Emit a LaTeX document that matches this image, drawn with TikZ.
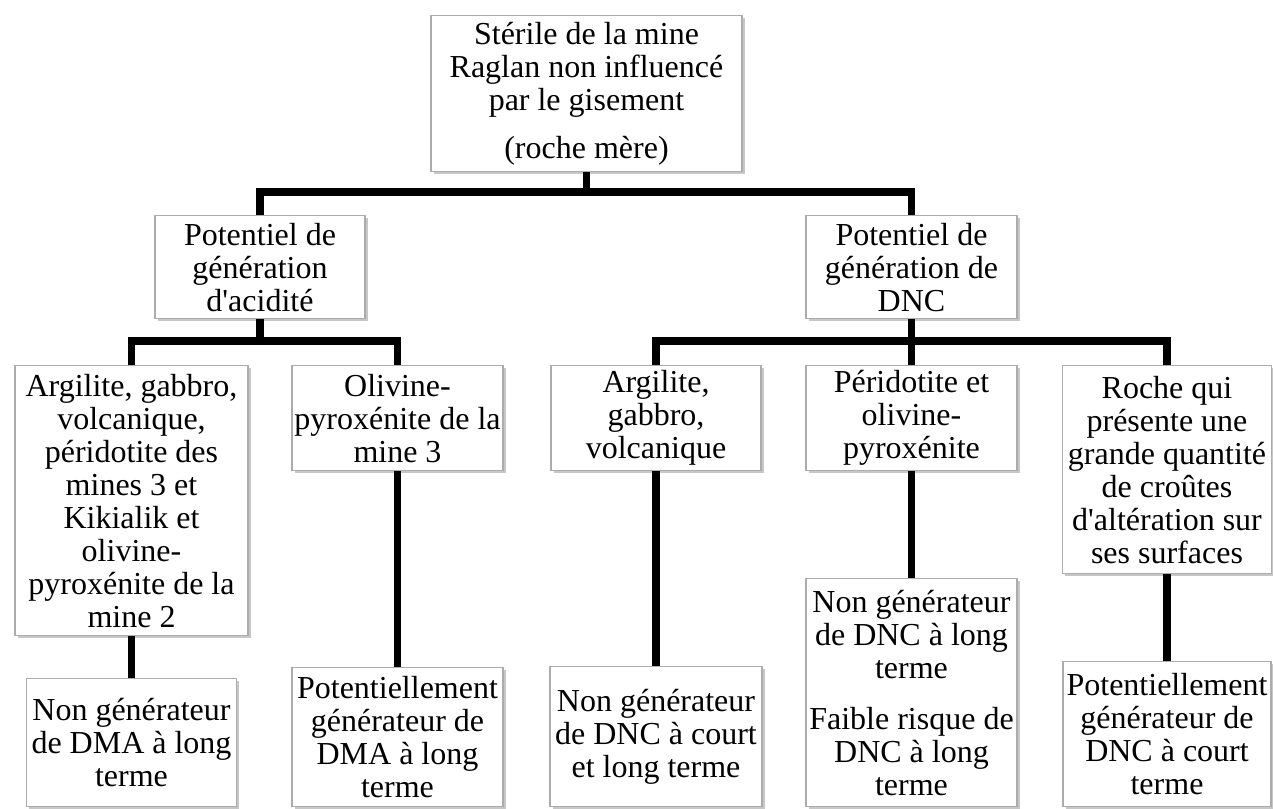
\documentclass[tikz,border=0pt]{standalone}
\usepackage{fontspec}
\setmainfont{Liberation Serif}
\usetikzlibrary{shadows}
\begin{document}
\begin{tikzpicture}[x=0.5pt,y=-0.5pt,
  box/.style={draw=gray!65, line width=0.6pt, fill=white, anchor=north,
    align=center, inner xsep=1pt, inner ysep=1pt,
    font=\fontsize{16}{16.5}\selectfont,
    drop shadow={shadow xshift=1.3pt, shadow yshift=-1.3pt, fill=black, opacity=0.22}},
  conn/.style={line width=3.75pt, black, line join=miter}]
\useasboundingbox (0,0) rectangle (1273,808);
\fill[white] (0,0) rectangle (1273,808);
% top
\node[box, minimum width=155.5pt, minimum height=78pt] (top) at (586.5,15)
  {Stérile de la mine\\Raglan non influencé\\par le gisement\\[7.5pt](roche mère)};
% middle
\node[box, minimum width=105pt, minimum height=51.5pt] (mL) at (260,215)
  {Potentiel de\\génération\\d\textquotesingle acidité};
\node[box, minimum width=105.5pt, minimum height=51.5pt] (mR) at (911.5,215)
  {Potentiel de\\génération de\\DNC};
% bottom row
\node[box, minimum width=116.5pt, minimum height=135pt] (b1) at (131.5,365)
  {Argilite, gabbro,\\volcanique,\\péridotite des\\mines 3 et\\Kikialik et\\olivine-\\pyroxénite de la\\mine 2};
\node[box, minimum width=105.5pt, minimum height=52.5pt] (b2) at (397.5,365)
  {Olivine-\\pyroxénite de la\\mine 3};
\node[box, minimum width=105pt, minimum height=52.5pt] (b3) at (656,365)
  {Argilite,\\gabbro,\\volcanique};
\node[box, minimum width=105.5pt, minimum height=52.5pt] (b4) at (911.5,365)
  {Péridotite et\\olivine-\\pyroxénite};
\node[box, minimum width=104.5pt, minimum height=104pt] (b5) at (1167,365)
  {Roche qui\\présente une\\grande quantité\\de croûtes\\d\textquotesingle altération sur\\ses surfaces};
% leaves
\node[box, minimum width=105pt, minimum height=64pt] (l1) at (131.5,678)
  {Non générateur\\de DMA à long\\terme};
\node[box, minimum width=105.5pt, minimum height=69.5pt] (l2) at (397.5,667)
  {Potentiellement\\générateur de\\DMA à long\\terme};
\node[box, minimum width=106pt, minimum height=70pt] (l3) at (656,666)
  {Non générateur\\de DNC à court\\et long terme};
\node[box, minimum width=105.5pt, minimum height=114pt] (l4) at (911.5,578)
  {Non générateur\\de DNC à long\\terme\\[9pt]Faible risque de\\DNC à long\\terme};
\node[box, minimum width=104pt, minimum height=72.5pt] (l5) at (1167,661)
  {Potentiellement\\générateur de\\DNC à court\\terme};
% connectors
\coordinate (j0) at (586.5,192);
\coordinate (j1) at (260,341);
\coordinate (j2) at (911.5,341);
\draw[conn] (top.south) -- (j0);
\draw[conn] (mL.north) |- (j0) -| (mR.north);
\draw[conn] (mL.south) -- (j1);
\draw[conn] (b1.north) |- (j1) -| (b2.north);
\draw[conn] (mR.south) -- (b4.north);
\draw[conn] (b3.north) |- (j2) -| (b5.north);
\draw[conn] (b1.south) -- (l1.north);
\draw[conn] (b2.south) -- (l2.north);
\draw[conn] (b3.south) -- (l3.north);
\draw[conn] (b4.south) -- (l4.north);
\draw[conn] (b5.south) -- (l5.north);
\end{tikzpicture}
\end{document}
